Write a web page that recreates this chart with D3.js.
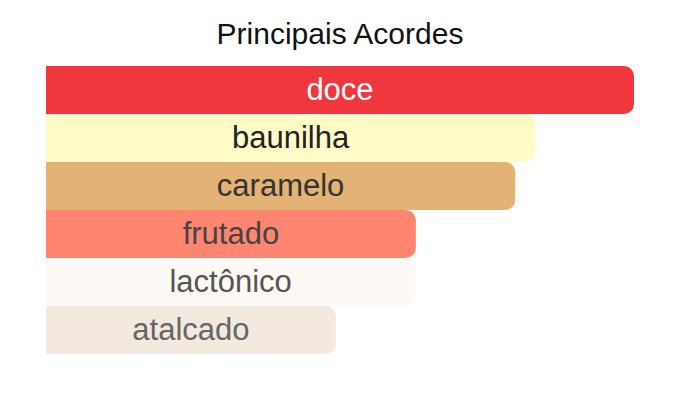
<!DOCTYPE html>
<html>
<head>
<meta charset="utf-8">
<script src="https://cdn.jsdelivr.net/npm/d3@7"></script>
<style>
  body { margin: 0; background: #fff; }
  text { font-family: "Liberation Sans", Arial, Helvetica, sans-serif; }
</style>
</head>
<body>
<div id="chart"></div>
<script>
// accords and their relative strength (top one = 100)
var accords = ["doce", "baunilha", "caramelo", "frutado", "lactônico", "atalcado"];
var strength = [100, 83.2, 79.8, 62.9, 62.8, 49.3];
var barColors = ["#ef373d", "#fffcc8", "#e3b275", "#ff8570", "#fdfaf5", "#f3e9df"];
var textColors = ["#ffffff", "#222222", "#333333", "#444444", "#555555", "#666666"];

var data = accords.map(function(a, i) {
    return { name: a, value: strength[i], fill: barColors[i], ink: textColors[i] };
});

var width = 676;
var height = 400;

var svg = d3.select("#chart")
    .append("svg")
    .attr("width", width)
    .attr("height", height);

var x = d3.scaleLinear()
    .domain([0, 100])
    .range([46, 634]);

var y = d3.scaleBand()
    .domain(accords)
    .range([66, 354])
    .padding(0);

// bar with only the right corners rounded
function bar(d) {
    var r = 10;
    var x0 = x(0), x1 = x(d.value);
    var y0 = y(d.name), y1 = y0 + y.bandwidth();
    var p = d3.path();
    p.moveTo(x0, y0);
    p.lineTo(x1 - r, y0);
    p.arcTo(x1, y0, x1, y0 + r, r);
    p.lineTo(x1, y1 - r);
    p.arcTo(x1, y1, x1 - r, y1, r);
    p.lineTo(x0, y1);
    p.closePath();
    return p.toString();
}

svg.append("text")
    .attr("x", 340)
    .attr("y", 44)
    .attr("text-anchor", "middle")
    .style("font-size", "30px")
    .attr("fill", "#111")
    .text("Principais Acordes");

var rows = svg.selectAll(".accord")
    .data(data)
    .enter().append("g")
    .attr("class", "accord");

rows.append("path")
    .attr("d", bar)
    .attr("fill", function(d) { return d.fill; });

rows.append("text")
    .attr("x", function(d) { return (x(0) + x(d.value)) / 2; })
    .attr("y", function(d) { return y(d.name) + y.bandwidth() / 2; })
    .attr("dy", "0.33em")
    .attr("text-anchor", "middle")
    .style("font-size", "31px")
    .attr("fill", function(d) { return d.ink; })
    .text(function(d) { return d.name; });
</script>
</body>
</html>
